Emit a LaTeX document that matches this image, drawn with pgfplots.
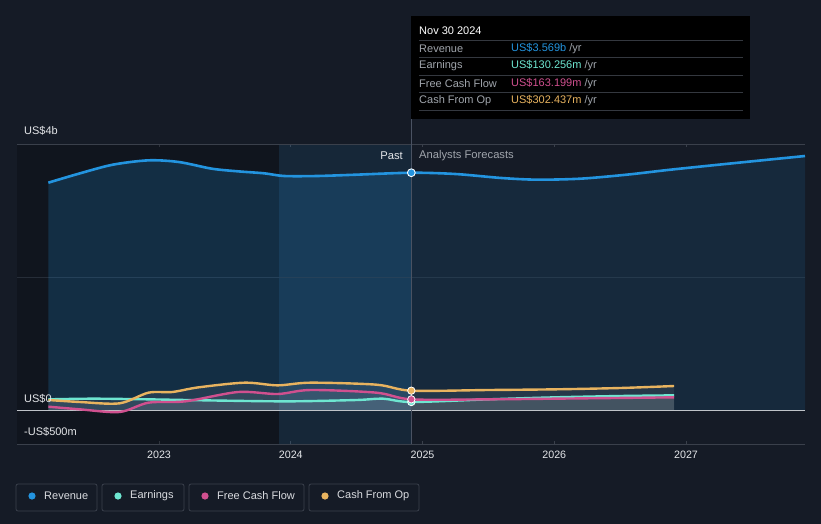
\documentclass[border=0pt]{standalone}
\usepackage{pgfplots}
\pgfplotsset{compat=1.18}
\usepackage{fontspec}
\setmainfont{Liberation Sans}
\definecolor{bg}{HTML}{151B26}
\definecolor{rev}{HTML}{2394DF}
\definecolor{earn}{HTML}{6EE6D1}
\definecolor{fcf}{HTML}{D0508F}
\definecolor{cfo}{HTML}{E8B35F}
\definecolor{gridc}{HTML}{3A404B}
\definecolor{midgrid}{HTML}{262D38}
\definecolor{zeroc}{HTML}{BFC3C8}
\definecolor{lab}{HTML}{A0A5AC}
\definecolor{txt}{HTML}{E4E6E9}
\definecolor{ttline}{HTML}{34383F}
\definecolor{legbox}{HTML}{3A404C}
\definecolor{vline}{HTML}{4A5262}
\newcommand\f[1]{\fontsize{#1}{#1}\selectfont}
\begin{document}
\begin{tikzpicture}
\useasboundingbox (0,0) rectangle (821pt,-524pt);
\fill[bg] (0,0) rectangle (821pt,-524pt);
\begin{axis}[at={(17pt,-444pt)}, anchor=south west, scale only axis,
  width=788pt, height=300pt,
  xmin=2021.922, xmax=2027.903, ymin=-0.5, ymax=4,
  axis line style={draw=none}, ytick=\empty,
  xtick={2023,2024,2025,2026,2027},
  xticklabels={2023,2024,2025,2026,2027},
  xtick style={draw=gridc, line width=1pt}, major tick length=3pt, tick align=inside,
  xticklabel style={text=txt, font=\f{10.7}, yshift=-3pt},
  clip=false]
% background regions
\fill[black, opacity=0.2] (axis cs:2021.922,-0.5) rectangle (axis cs:2023.91,4);
\fill[rev, opacity=0.1] (axis cs:2023.91,-0.5) rectangle (axis cs:2024.915,4);
% grid lines
\draw[gridc, line width=1pt] (axis cs:2021.922,4) -- (axis cs:2027.903,4);
\draw[midgrid, line width=1pt] (axis cs:2021.922,2) -- (axis cs:2027.903,2);
\draw[gridc, line width=1pt] (axis cs:2021.922,-0.5) -- (axis cs:2027.903,-0.5);
% revenue fills
\addplot[draw=none, fill=rev, fill opacity=0.2, smooth] coordinates {
(2022.16,3.42) (2022.40,3.56) (2022.65,3.69) (2022.92,3.755) (2023.15,3.73) (2023.40,3.63) (2023.60,3.59) (2023.80,3.56) (2023.95,3.52) (2024.20,3.52) (2024.50,3.54) (2024.915,3.569)
} \closedcycle;
\addplot[draw=none, fill=rev, fill opacity=0.12, smooth] coordinates {
(2024.915,3.569) (2025.25,3.55) (2025.60,3.49) (2025.87,3.465) (2026.20,3.48) (2026.55,3.54) (2026.86,3.61) (2027.20,3.68) (2027.55,3.75) (2027.903,3.82)
} \closedcycle;
% small series fills
\addplot[draw=none, fill=white, fill opacity=0.07, smooth] coordinates {
(2022.16,0.16) (2022.40,0.13) (2022.70,0.11) (2022.92,0.27) (2023.10,0.28) (2023.30,0.35) (2023.65,0.42) (2023.90,0.38) (2024.15,0.42) (2024.65,0.39) (2024.915,0.30) (2025.5,0.31) (2026.0,0.32) (2026.5,0.34) (2026.91,0.37)
} \closedcycle;
\addplot[draw=none, fill=white, fill opacity=0.07, smooth] coordinates {
(2022.16,0.06) (2022.40,0.02) (2022.70,-0.02) (2022.92,0.12) (2023.20,0.14) (2023.60,0.28) (2023.90,0.25) (2024.15,0.31) (2024.65,0.27) (2024.915,0.17) (2025.5,0.17) (2026.0,0.18) (2026.91,0.20)
} \closedcycle;
\addplot[draw=none, fill=white, fill opacity=0.07, smooth] coordinates {
(2022.16,0.17) (2022.50,0.18) (2022.92,0.17) (2023.50,0.15) (2024.00,0.14) (2024.50,0.16) (2024.70,0.18) (2024.915,0.13) (2025.5,0.17) (2026.0,0.20) (2026.5,0.22) (2026.91,0.23)
} \closedcycle;
% zero line
\draw[zeroc, line width=1.5pt] (axis cs:2021.922,0) -- (axis cs:2027.903,0);
% lines
\addplot[rev, line width=2.6pt, smooth] coordinates {
(2022.16,3.42) (2022.40,3.56) (2022.65,3.69) (2022.92,3.755) (2023.15,3.73) (2023.40,3.63) (2023.60,3.59) (2023.80,3.56) (2023.95,3.52) (2024.20,3.52) (2024.50,3.54) (2024.915,3.569) (2025.25,3.55) (2025.60,3.49) (2025.87,3.465) (2026.20,3.48) (2026.55,3.54) (2026.86,3.61) (2027.20,3.68) (2027.55,3.75) (2027.903,3.82)
};
\addplot[earn, line width=2.4pt, smooth] coordinates {
(2022.16,0.17) (2022.50,0.18) (2022.92,0.17) (2023.50,0.15) (2024.00,0.14) (2024.50,0.16) (2024.70,0.18) (2024.915,0.13) (2025.5,0.17) (2026.0,0.20) (2026.5,0.22) (2026.91,0.23)
};
\addplot[fcf, line width=2.4pt, smooth] coordinates {
(2022.16,0.06) (2022.40,0.02) (2022.70,-0.02) (2022.92,0.12) (2023.20,0.14) (2023.60,0.28) (2023.90,0.25) (2024.15,0.31) (2024.65,0.27) (2024.915,0.17) (2025.5,0.17) (2026.0,0.18) (2026.91,0.20)
};
\addplot[cfo, line width=2.4pt, smooth] coordinates {
(2022.16,0.16) (2022.40,0.13) (2022.70,0.11) (2022.92,0.27) (2023.10,0.28) (2023.30,0.35) (2023.65,0.42) (2023.90,0.38) (2024.15,0.42) (2024.65,0.39) (2024.915,0.30) (2025.5,0.31) (2026.0,0.32) (2026.5,0.34) (2026.91,0.37)
};
% vertical cursor line
\draw[vline, line width=1pt] (axis cs:2024.915,-0.5) -- (axis cs:2024.915,4.38);
% end markers
\addplot[only marks, mark=*, mark size=3.7pt, mark options={fill=earn, draw=white, line width=0.8pt}] coordinates {(2024.915,0.13)};
\addplot[only marks, mark=*, mark size=3.7pt, mark options={fill=fcf, draw=white, line width=0.8pt}] coordinates {(2024.915,0.17)};
\addplot[only marks, mark=*, mark size=3.7pt, mark options={fill=cfo, draw=white, line width=0.8pt}] coordinates {(2024.915,0.30)};
\addplot[only marks, mark=*, mark size=3.9pt, mark options={fill=rev, draw=white, line width=0.9pt}] coordinates {(2024.915,3.569)};
\end{axis}
% y labels
\node[anchor=west, text=txt, font=\f{11}, inner sep=0] at (24pt,-131pt) {US\$4b};
\node[anchor=west, text=txt, font=\f{11}, inner sep=0] at (24pt,-399pt) {US\$0};
\node[anchor=west, text=txt, font=\f{11}, inner sep=0] at (24pt,-432pt) {-US\$500m};
% past / forecast
\node[anchor=east, text=txt, font=\f{11.2}, inner sep=0] at (403pt,-156pt) {Past};
\node[anchor=west, text=lab, font=\f{11.2}, inner sep=0] at (419pt,-156pt) {Analysts Forecasts};
% tooltip
\fill[black] (411pt,-16pt) rectangle (750pt,-119pt);
\node[anchor=west, text=white, font=\f{11}, inner sep=0] at (419pt,-31pt) {Nov 30 2024};
\foreach \yy in {41,58,76,93,111} {\draw[ttline, line width=1pt] (419pt,-\yy pt) -- (743pt,-\yy pt);}
\node[anchor=west, text=lab, font=\f{11}, inner sep=0] at (419pt,-49pt) {Revenue};
\node[anchor=west, text=lab, font=\f{11}, inner sep=0] at (419pt,-66pt) {Earnings};
\node[anchor=west, text=lab, font=\f{11}, inner sep=0] at (419pt,-84pt) {Free Cash Flow};
\node[anchor=west, text=lab, font=\f{11}, inner sep=0] at (419pt,-101pt) {Cash From Op};
\node[anchor=west, font=\f{11}, inner sep=0] at (511pt,-49pt) {\textcolor{rev}{US\$3.569b} \textcolor{lab}{/yr}};
\node[anchor=west, font=\f{11}, inner sep=0] at (511pt,-66pt) {\textcolor{earn}{US\$130.256m} \textcolor{lab}{/yr}};
\node[anchor=west, font=\f{11}, inner sep=0] at (511pt,-84pt) {\textcolor{fcf}{US\$163.199m} \textcolor{lab}{/yr}};
\node[anchor=west, font=\f{11}, inner sep=0] at (511pt,-101pt) {\textcolor{cfo}{US\$302.437m} \textcolor{lab}{/yr}};
% legend
\draw[legbox, line width=0.8pt, rounded corners=2pt] (16pt,-484pt) rectangle (97pt,-511pt);
\draw[legbox, line width=0.8pt, rounded corners=2pt] (102pt,-484pt) rectangle (184pt,-511pt);
\draw[legbox, line width=0.8pt, rounded corners=2pt] (189pt,-484pt) rectangle (304pt,-511pt);
\draw[legbox, line width=0.8pt, rounded corners=2pt] (309pt,-484pt) rectangle (419pt,-511pt);
\fill[rev] (32pt,-496pt) circle (3.6pt);
\fill[earn] (118pt,-496pt) circle (3.6pt);
\fill[fcf] (205pt,-496pt) circle (3.6pt);
\fill[cfo] (325pt,-496pt) circle (3.6pt);
\node[anchor=west, text=txt!85!lab, font=\f{11}, inner sep=0] at (44pt,-496pt) {Revenue};
\node[anchor=west, text=txt!85!lab, font=\f{11}, inner sep=0] at (130pt,-496pt) {Earnings};
\node[anchor=west, text=txt!85!lab, font=\f{11}, inner sep=0] at (217pt,-496pt) {Free Cash Flow};
\node[anchor=west, text=txt!85!lab, font=\f{11}, inner sep=0] at (337pt,-496pt) {Cash From Op};
\end{tikzpicture}
\end{document}
